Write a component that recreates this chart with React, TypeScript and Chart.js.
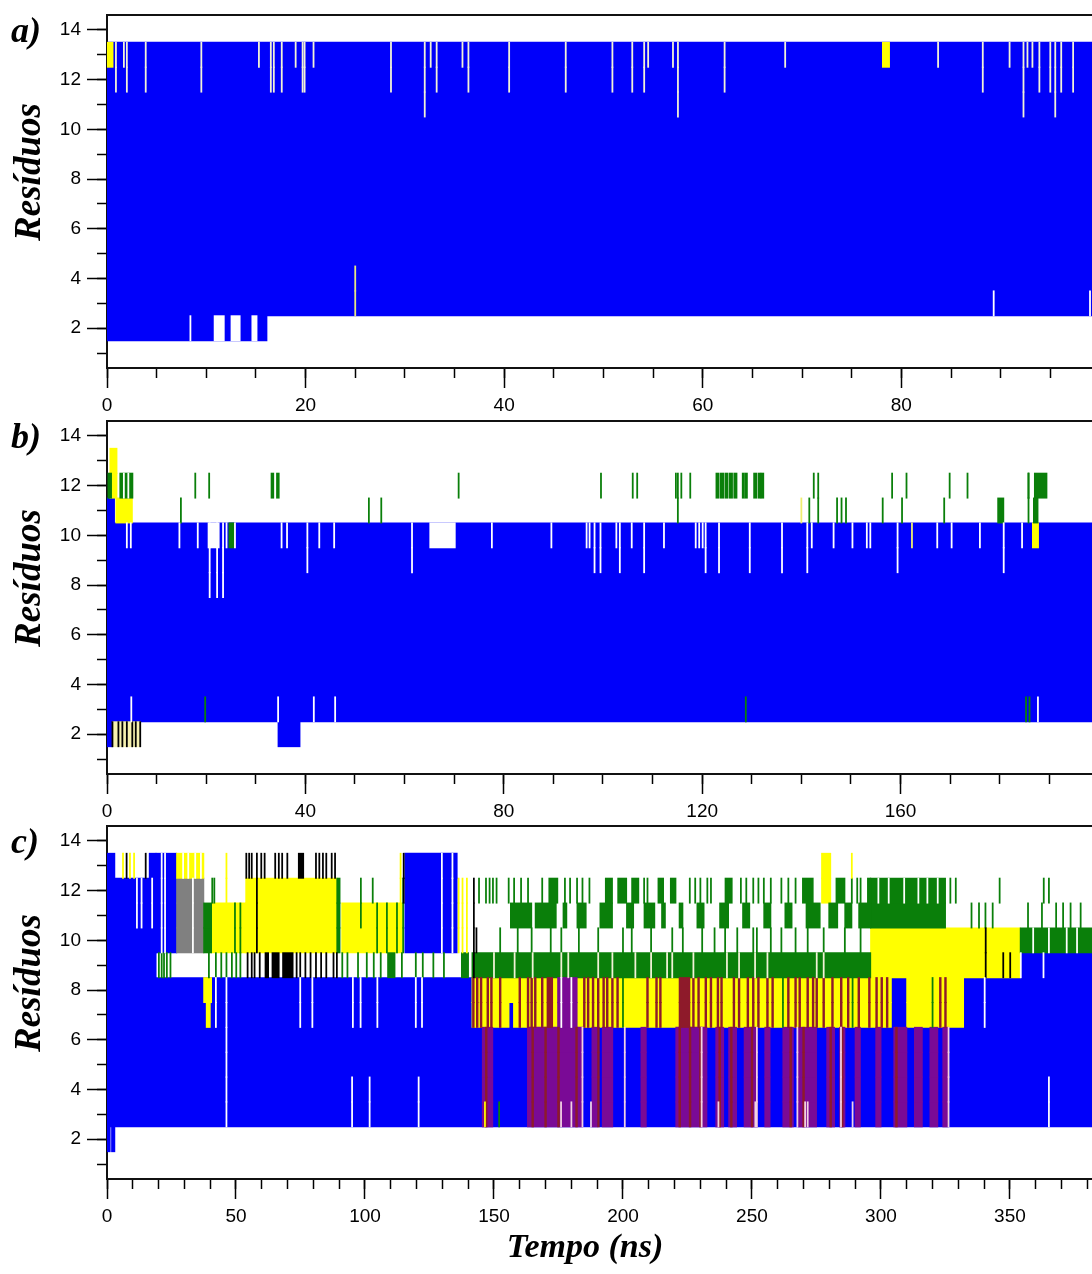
import React, { useEffect, useRef } from 'react';
import { Chart, registerables } from 'chart.js';

Chart.register(...registerables);

type Rect = [number, number, number, number]; // [t start, t end, residue low, residue high]
type LineGroup = { t: number[]; r: [number, number] }; // single-frame events at times t over residues r

// ---------------- common ----------------
const Y_MIN = 0.4;
const Y_MAX = 14.6;
const Y_MAJOR = 2;
const Y_MINOR = 1;
const Y_TITLE = 'Resíduos';
const X_TITLE = 'Tempo (ns)';

const BLUE = '#0000fa';
const YELLOW = '#ffff00';
const PALE_YELLOW = '#f6f1b0';
const GREEN = '#0a7f0a';
const BLACK = '#000000';
const GREY = '#808080';
const PURPLE = '#7a0a96';
const MAROON = '#8e1a2a';
const WHITE = '#ffffff';
const PALE = '#f2f2d6';
const PINK = '#f3d2e2';

// ---------------- panel a ----------------
const A_X_MAX = 99.2;
const A_X_TICKS = [0, 20, 40, 60, 80];
const A_BLUE: Rect[] = [[0, 100, 3, 13], [0, 16.1, 2, 2]];
const A_GAPS: Rect[] = [[10.8, 11.8, 2, 2], [12.5, 13.4, 2, 2], [14.6, 15.1, 2, 2]];
const A_YELLOW: Rect[] = [[0, 0.6, 13, 13], [78.1, 78.8, 13, 13]];
const A_TOP_LINES_12_13 = [0.9, 2.0, 3.9, 9.5, 16.5, 16.8, 17.6, 19.7, 19.9, 28.6, 33.2, 36.4, 40.5, 46.2, 50.9, 52.9, 54.1, 62.2, 88.2, 93.9, 95.0, 96.1, 97.3];
const A_TOP_LINES_13 = [1.7, 15.3, 19.0, 20.8, 32.6, 35.8, 54.5, 57.0, 68.3, 83.7, 90.9, 92.7, 93.2];
const A_TOP_LINES_11_13 = [32.0, 57.5, 92.3, 95.5];
const A_YELLOW_LINES = [25.0];
const A_LOW_LINES = [89.3, 99.0];
const A_R2_LINES = [8.4];

// ---------------- panel b ----------------
const B_X_MAX = 198.6;
const B_X_TICKS = [0, 40, 80, 120, 160];
const B_BLUE: Rect[] = [[0, 200, 3, 10], [0, 1.5, 11, 11], [34.5, 38.9, 2, 2], [0, 1.1, 2, 2]];
const B_GAPS: Rect[] = [[65.1, 70.2, 10, 10], [20.4, 22.6, 10, 10]];
const B_PALE_YELLOW: Rect[] = [[1.1, 6.7, 2, 2]];
const B_YELLOW: Rect[] = [[0.6, 2.0, 12, 13], [1.8, 5.1, 11, 11], [186.6, 187.8, 10, 10]];
const B_GREEN: Rect[] = [
  [0.2, 0.9, 12, 12], [2.6, 5.2, 12, 12], [187.0, 189.5, 12, 12], [179.6, 180.8, 11, 11],
  [186.8, 187.7, 11, 11], [24.6, 25.6, 10, 10], [122.8, 123.4, 12, 12], [123.7, 124.3, 12, 12],
  [124.6, 125.2, 12, 12], [125.5, 126.1, 12, 12], [126.4, 127.0, 12, 12], [128.1, 128.5, 12, 12],
  [128.7, 129.1, 12, 12], [130.4, 131.0, 12, 12], [131.3, 131.8, 12, 12], [131.9, 132.4, 12, 12],
  [33.1, 33.6, 12, 12], [34.2, 34.7, 12, 12],
];
const B_GREEN_R12 = [17.8, 20.6, 70.9, 99.6, 106.0, 106.9, 114.7, 115.8, 117.6, 142.5, 158.3, 161.2, 169.9, 173.5, 185.8];
const B_GREEN_R11 = [14.9, 52.8, 55.3, 141.6, 147.2, 148.1, 149.0, 156.4, 160.3, 168.8];
const B_GREEN_R11_12 = [115.1, 143.4, 185.8];
const B_GREEN_R3 = [19.8, 128.8, 185.3, 186.0];
const B_BLACK_R2 = [1.1, 2.3, 3.1, 4.0, 5.1, 5.8, 6.7];
const B_YELLOW_R11 = [140.0];
const B_YELLOW_R10 = [162.3];
const B_WHITE_R10 = [4.0, 4.8, 14.6, 18.3, 24.1, 25.8, 35.2, 36.3, 42.8, 45.8, 77.6, 89.6, 96.7, 97.3, 102.7, 105.8, 112.3, 118.7, 119.4, 120.1, 142.1, 146.5, 150.3, 153.2, 153.9, 167.4, 170.3, 176.0, 184.5];
const B_WHITE_R9_10 = [40.4, 61.5, 98.3, 99.5, 103.4, 108.3, 120.7, 123.4, 129.6, 136.1, 141.2, 159.4, 180.8];
const B_WHITE_R8_10 = [20.7, 22.2, 23.4];
const B_WHITE_R3 = [4.9, 34.5, 41.7, 46.0, 187.7];
const B_WHITE_R12 = [3.4, 4.3];

// ---------------- panel c ----------------
const C_X_MAX = 381.8;
const C_X_TICKS = [0, 50, 100, 150, 200, 250, 300, 350];
const C_BLUE: Rect[] = [
  [0, 1.2, 2, 2], [1.8, 3.0, 2, 2], [0, 383, 3, 6], [0, 141.5, 7, 8], [0, 19, 9, 12],
  [0, 3, 13, 13], [16.4, 19, 13, 13], [19, 27, 10, 13], [115.5, 135.7, 10, 13],
  [155.8, 157.6, 7, 7], [304, 310, 7, 8], [332, 383, 7, 8], [354, 383, 9, 9],
];
const C_GREY: Rect[] = [[27, 37.5, 10, 12]];
const C_YELLOW: Rect[] = [
  [27, 37.5, 13, 13], [37.5, 40.5, 8, 8], [38.5, 40.0, 7, 7], [40.5, 53.8, 10, 11],
  [53.8, 89.1, 10, 12], [91, 114.5, 10, 11], [141.5, 155.8, 7, 8], [155.8, 157.6, 8, 8],
  [157.6, 304, 7, 8], [310, 332, 7, 8], [296, 354, 9, 10], [277, 280.5, 12, 13],
];
const C_GREEN: Rect[] = [
  [37.5, 40.5, 10, 11], [89.1, 90.3, 10, 12], [141.5, 296, 9, 9], [296, 325, 11, 12], [354, 383, 10, 10],
  [108.8, 111.6, 9, 9], [137.4, 140.1, 9, 9],
  [156.4, 164.6, 11, 11], [166.0, 174.1, 11, 11], [176.8, 178.2, 11, 11], [182.2, 185.7, 11, 11],
  [191.1, 195.9, 11, 11], [201.4, 204.1, 11, 11], [208.2, 212.3, 11, 11], [215.0, 216.4, 11, 11],
  [221.8, 223.2, 11, 11], [228.7, 231.4, 11, 11], [237.5, 240.9, 11, 11], [246.4, 249.1, 11, 11],
  [254.6, 257.3, 11, 11], [262.8, 265.5, 11, 11], [271.0, 276.4, 11, 11], [279.8, 283.2, 11, 11],
  [286.0, 288.7, 11, 11], [291.4, 296, 11, 11],
  [171.3, 174.7, 12, 12], [193.2, 195.9, 12, 12], [198.0, 201.4, 12, 12], [203.4, 206.1, 12, 12],
  [213.6, 215.7, 12, 12], [218.4, 220.5, 12, 12], [239.6, 242.3, 12, 12], [269.6, 273.7, 12, 12],
  [282.6, 286.0, 12, 12], [294.8, 296, 12, 12],
];
const C_BLACK: Rect[] = [[74.2, 76.2, 13, 13], [61.3, 62.6, 9, 9], [64.0, 66.7, 9, 9], [68.1, 72.1, 9, 9]];
const C_PURPLE: Rect[] = [
  [145.5, 149.5, 3, 6], [163, 184.3, 3, 6], [188, 190, 3, 6], [192, 196, 3, 6], [207, 209, 3, 6],
  [220.5, 232.5, 3, 6], [236, 239, 3, 6], [241, 244, 3, 6], [247, 252, 3, 6], [255, 257, 3, 6],
  [262, 266, 3, 6], [268, 275, 3, 6], [279, 282, 3, 6], [284, 286, 3, 6], [290, 292, 3, 6],
  [298, 300, 3, 6], [305, 310, 3, 6], [313, 316, 3, 6], [319, 322, 3, 6], [324, 326, 3, 6],
  [174.7, 182.2, 7, 8],
];
const C_MAROON: Rect[] = [[170.6, 172.7, 7, 8], [221.8, 225.9, 7, 8]];
const C_MAROON_R3_6 = [147, 165, 170, 175, 182, 190.5, 222, 226, 230, 237.5, 242, 250, 265, 270, 280.5, 285, 306];
const C_MAROON_R7_8 = [142, 143.5, 145, 147.6, 149, 152.4, 160, 163.2, 164.6, 166, 168.7, 185.0, 186.5, 188.4, 190.4, 192.5, 193.9, 195.9, 197.9, 209.5, 213.0, 214.5, 227.3, 229.3, 232.1, 234.1, 236.8, 238.2, 243.0, 245.0, 248.4, 250.5, 252.5, 256.0, 258.0, 264.1, 266.9, 268.5, 271.6, 273.7, 275.1, 277.8, 281.2, 284.6, 287.3, 291.4, 295.5, 298.3, 300.3, 302.4, 323, 325];
const C_GREEN_R12 = [144.2, 146.9, 148.3, 149.6, 151.0, 155.7, 157.8, 160.5, 163.2, 168.7, 177.5, 179.5, 182.2, 184.3, 187.0, 208.2, 209.5, 225.9, 228.0, 230.0, 232.7, 234.1, 245.7, 247.8, 250.5, 252.5, 254.6, 257.3, 261.4, 264.1, 266.9, 288.7, 290.8, 292.1, 326.9, 329, 346, 363.1, 365.1, 41.6, 40.8, 103];
const C_GREEN_R10 = [152.4, 159.2, 164.6, 172.0, 176.1, 182.9, 190.4, 200.0, 203.4, 210.9, 219.1, 223.2, 230.7, 235.5, 239.6, 244.3, 250.5, 251.9, 257.3, 261.4, 266.9, 271.6, 277.8, 286.0, 292.1];
const C_GREEN_R11 = [335.1, 338, 340.5, 343.3, 357, 362.4, 367.9, 370.6, 373.5, 377.4];
const C_GREEN_R10_11 = [49.6, 51.7, 104.7, 108.5, 112.4];
const C_GREEN_R11_12 = [98.4];
const C_GREEN_R10_12 = [114.8];
const C_GREEN_R9 = [20.1, 21.2, 22.1, 23.2, 24.6, 39.5, 42.2, 44.3, 46.3, 48.4, 50.1, 51.7, 91.2, 93.2, 97.3, 100.7, 103.4, 106.1, 114.3, 119.7, 122.4, 126.5, 130.6];
const C_GREEN_R7_8 = [200, 262, 289, 320];
const C_GREEN_R3 = [152];
const C_BLACK_R13 = [54.0, 55.1, 56.1, 58.1, 59.8, 61.1, 65.2, 66.6, 67.9, 69.9, 81.0, 82.3, 83.7, 85.0, 87.1, 88.4, 7.6, 15.0];
const C_BLACK_R9 = [54.5, 56.1, 57.2, 59.2, 73.5, 74.9, 76.9, 78.9, 81.0, 83.0, 85.0, 87.8, 89.1, 347.4, 350.1];
const C_BLACK_R10_12 = [58.1];
const C_BLACK_R9_12 = [142.2];
const C_BLACK_R10 = [143.2];
const C_BLACK_R9_10 = [340.6];
const C_BLACK_R12_13 = [115.0];
const C_YELLOW_R13 = [6.2, 8.9, 10.5, 288.7];
const C_YELLOW_R12_13 = [46.3, 113.8];
const C_YELLOW_R10_12 = [136.3, 137.8, 139.5];
const C_YELLOW_R3 = [146.5];
const C_PALE_R9 = [150, 158, 165, 176.1, 178.8, 190.4, 195.9, 204.8, 210.9, 217.1, 219.1, 227.3, 240.3, 245.0, 251.2, 256.0, 275.1, 277.8];
const C_WHITE_R11_12 = [11.6, 13.4, 17.5];
const C_WHITE_R10_13 = [21.2, 22.5, 129.8, 133.9];
const C_WHITE_R10_12 = [33.3];
const C_WHITE_R7_8 = [42.2, 74.9, 79.6, 95.3, 98.3, 104.8, 119.7, 122.1, 340.2, 176.1, 180.0];
const C_WHITE_R3_8 = [46.3];
const C_WHITE_R3_4 = [95.0, 101.8, 120.8, 365.1];
const C_WHITE_R13 = [29.5, 31.5, 34.2, 36.4];
const C_WHITE_R12 = [299, 303, 309, 314.5, 318, 322];
const C_WHITE_R9 = [354.2, 363];
const C_WHITE_R10 = [359, 365.1, 372, 376];
const C_PINK_R3_6 = [184.3, 200.7, 230.5, 251.9, 267.6, 284.5, 326.2];
const C_PINK_R3 = [176, 180, 187.6, 237, 251.3, 270.6, 271.6, 289];

// ---------------- specs ----------------
interface Layer { name: string; color: string; rects?: Rect[]; lines?: LineGroup[]; lineW?: number }
interface PanelSpec {
  key: string; letter: string; top: number; height: number; xMax: number; xTicks: number[];
  minor: number; lineW: number; xBoxH: number; xTitle?: string; layers: Layer[];
}

const PLOT_TOP_PAD = 15;
const PLOT_H = 353;
const Y_AXIS_W = 107;
const Y_TITLE_SHIFT = -20;

const PANELS: PanelSpec[] = [
  {
    key: 'a', letter: 'a)', top: 0, height: 430, xMax: A_X_MAX, xTicks: A_X_TICKS, minor: 5, lineW: 0.08, xBoxH: 430 - PLOT_TOP_PAD - PLOT_H,
    layers: [
      { name: 'A-Helix', color: BLUE, rects: A_BLUE },
      { name: 'Coil', color: WHITE, rects: A_GAPS },
      { name: 'Turn', color: YELLOW, rects: A_YELLOW },
      { name: 'Turn (single)', color: PALE, lines: [
        { t: A_TOP_LINES_12_13, r: [12, 13] }, { t: A_TOP_LINES_13, r: [13, 13] }, { t: A_TOP_LINES_11_13, r: [11, 13] },
      ] },
      { name: 'Turn line', color: '#e8e880', lines: [{ t: A_YELLOW_LINES, r: [3, 4] }] },
      { name: 'Coil line', color: WHITE, lines: [{ t: A_R2_LINES, r: [2, 2] }, { t: A_LOW_LINES, r: [3, 3] }] },
    ],
  },
  {
    key: 'b', letter: 'b)', top: 406, height: 430, xMax: B_X_MAX, xTicks: B_X_TICKS, minor: 10, lineW: 0.16, xBoxH: 430 - PLOT_TOP_PAD - PLOT_H,
    layers: [
      { name: 'A-Helix', color: BLUE, rects: B_BLUE },
      { name: 'Coil', color: WHITE, rects: B_GAPS },
      { name: 'Turn pale', color: PALE_YELLOW, rects: B_PALE_YELLOW },
      { name: 'Turn', color: YELLOW, rects: B_YELLOW },
      { name: 'Bend', color: GREEN, rects: B_GREEN },
      { name: 'Bend line', color: GREEN, lines: [
        { t: B_GREEN_R12, r: [12, 12] }, { t: B_GREEN_R11, r: [11, 11] }, { t: B_GREEN_R11_12, r: [11, 12] }, { t: B_GREEN_R3, r: [3, 3] },
      ] },
      { name: 'Bridge line', color: BLACK, lines: [{ t: B_BLACK_R2, r: [2, 2] }] },
      { name: 'Turn line', color: '#eeee70', lines: [{ t: B_YELLOW_R11, r: [11, 11] }, { t: B_YELLOW_R10, r: [10, 10] }] },
      { name: 'Coil line', color: WHITE, lines: [
        { t: B_WHITE_R10, r: [10, 10] }, { t: B_WHITE_R9_10, r: [9, 10] }, { t: B_WHITE_R8_10, r: [8, 10] },
        { t: B_WHITE_R3, r: [3, 3] }, { t: B_WHITE_R12, r: [12, 12] },
      ] },
    ],
  },
  {
    key: 'c', letter: 'c)', top: 811, height: 463, xMax: C_X_MAX, xTicks: C_X_TICKS, minor: 10, lineW: 0.3, xBoxH: 463 - PLOT_TOP_PAD - PLOT_H, xTitle: X_TITLE,
    layers: [
      { name: 'A-Helix', color: BLUE, rects: C_BLUE },
      { name: '3-Helix', color: GREY, rects: C_GREY },
      { name: 'Turn', color: YELLOW, rects: C_YELLOW },
      { name: 'Bend', color: GREEN, rects: C_GREEN },
      { name: 'B-Bridge', color: BLACK, rects: C_BLACK },
      { name: '5-Helix', color: PURPLE, rects: C_PURPLE },
      { name: '5-Helix dark', color: MAROON, rects: C_MAROON, lineW: 0.55, lines: [{ t: C_MAROON_R3_6, r: [3, 6] }, { t: C_MAROON_R7_8, r: [7, 8] }] },
      { name: 'Bend line', color: GREEN, lines: [
        { t: C_GREEN_R12, r: [12, 12] }, { t: C_GREEN_R10, r: [10, 10] }, { t: C_GREEN_R11, r: [11, 11] },
        { t: C_GREEN_R10_11, r: [10, 11] }, { t: C_GREEN_R11_12, r: [11, 12] }, { t: C_GREEN_R10_12, r: [10, 12] },
        { t: C_GREEN_R9, r: [9, 9] }, { t: C_GREEN_R7_8, r: [7, 8] }, { t: C_GREEN_R3, r: [3, 3] },
      ] },
      { name: 'Bridge line', color: BLACK, lines: [
        { t: C_BLACK_R13, r: [13, 13] }, { t: C_BLACK_R9, r: [9, 9] }, { t: C_BLACK_R10_12, r: [10, 12] },
        { t: C_BLACK_R9_12, r: [9, 12] }, { t: C_BLACK_R10, r: [10, 10] }, { t: C_BLACK_R9_10, r: [9, 10] },
        { t: C_BLACK_R12_13, r: [12, 13] },
      ] },
      { name: 'Turn line', color: YELLOW, lines: [
        { t: C_YELLOW_R13, r: [13, 13] }, { t: C_YELLOW_R12_13, r: [12, 13] }, { t: C_YELLOW_R10_12, r: [10, 12] }, { t: C_YELLOW_R3, r: [3, 3] },
      ] },
      { name: 'Pale line', color: PALE, lines: [{ t: C_PALE_R9, r: [9, 9] }] },
      { name: 'Coil line', color: WHITE, lines: [
        { t: C_WHITE_R11_12, r: [11, 12] }, { t: C_WHITE_R10_13, r: [10, 13] }, { t: C_WHITE_R10_12, r: [10, 12] },
        { t: C_WHITE_R7_8, r: [7, 8] }, { t: C_WHITE_R3_8, r: [3, 8] }, { t: C_WHITE_R3_4, r: [3, 4] },
        { t: C_WHITE_R13, r: [13, 13] }, { t: C_WHITE_R12, r: [12, 12] }, { t: C_WHITE_R9, r: [9, 9] }, { t: C_WHITE_R10, r: [10, 10] },
      ] },
      { name: 'Pink line', color: PINK, lines: [{ t: C_PINK_R3_6, r: [3, 6] }, { t: C_PINK_R3, r: [3, 3] }] },
    ],
  },
];

const TICK_FONT = { family: '"Liberation Sans", Arial, sans-serif', size: 19 };
const SERIF = '"Liberation Serif", "Times New Roman", serif';

function toBars(layer: Layer, lineW: number) {
  const w = layer.lineW ?? lineW;
  const out: { x: [number, number]; y: number }[] = [];
  const push = (t0: number, t1: number, r0: number, r1: number) => {
    for (let r = r0; r <= r1; r++) out.push({ x: [t0, t1], y: r });
  };
  (layer.rects || []).forEach(([t0, t1, r0, r1]) => push(t0, t1, r0, r1));
  (layer.lines || []).forEach((g) => g.t.forEach((t) => push(t - w / 2, t + w / 2, g.r[0], g.r[1])));
  return out;
}

function zeroPad(s: any) {
  s.paddingLeft = 0; s.paddingRight = 0; s.paddingTop = 0; s.paddingBottom = 0;
}

function buildConfig(p: PanelSpec): any {
  const n = p.layers.length;
  const tickGrid = (len: number) => ({
    display: true, drawOnChartArea: false, drawTicks: true, tickLength: len, tickWidth: 1.5, tickColor: '#000', offset: false,
  });
  return {
    type: 'bar',
    data: {
      datasets: p.layers.map((L, i) => ({
        label: L.name,
        data: toBars(L, p.lineW),
        backgroundColor: L.color,
        borderWidth: 0,
        inflateAmount: 0.5,
        grouped: false,
        barPercentage: 1,
        categoryPercentage: 1,
        order: n - i,
        xAxisID: 'x',
        yAxisID: 'y',
      })),
    },
    options: {
      indexAxis: 'y',
      responsive: false,
      animation: false,
      events: [],
      layout: { padding: { top: PLOT_TOP_PAD, left: 0, right: 0, bottom: 0 } },
      plugins: { legend: { display: false }, tooltip: { enabled: false }, title: { display: false } },
      scales: {
        x: {
          type: 'linear', position: 'bottom', min: 0, max: p.xMax, weight: 1, offset: false,
          ticks: { font: TICK_FONT, color: '#000', padding: 6, maxRotation: 0, autoSkip: false },
          afterBuildTicks: (s: any) => { s.ticks = p.xTicks.map((v) => ({ value: v })); },
          grid: tickGrid(20),
          border: { display: true, color: '#111', width: 2 },
          afterFit: (s: any) => { s.height = p.xBoxH; zeroPad(s); },
        },
        xMinor: {
          type: 'linear', position: 'bottom', min: 0, max: p.xMax, weight: 0, offset: false,
          ticks: { display: false, stepSize: p.minor, includeBounds: false, maxTicksLimit: 1000 },
          grid: tickGrid(10),
          border: { display: false },
          afterFit: (s: any) => { s.height = 0; zeroPad(s); },
        },
        xTop: {
          type: 'linear', position: 'top', min: 0, max: p.xMax, offset: false,
          ticks: { display: false },
          grid: { display: true, drawOnChartArea: false, drawTicks: false },
          border: { display: true, color: '#111', width: 2 },
          afterFit: (s: any) => { s.height = 0; zeroPad(s); },
        },
        y: {
          type: 'linear', position: 'left', min: Y_MIN, max: Y_MAX, weight: 1, offset: false,
          ticks: { stepSize: Y_MAJOR, includeBounds: false, font: TICK_FONT, color: '#000', padding: 6, maxTicksLimit: 1000 },
          grid: tickGrid(20),
          border: { display: true, color: '#111', width: 2 },
          afterFit: (s: any) => { s.width = Y_AXIS_W; zeroPad(s); },
        },
        yMinor: {
          type: 'linear', position: 'left', min: Y_MIN, max: Y_MAX, weight: 0, offset: false,
          ticks: { display: false, stepSize: Y_MINOR, includeBounds: false, maxTicksLimit: 1000 },
          grid: tickGrid(10),
          border: { display: false },
          afterFit: (s: any) => { s.width = 0; zeroPad(s); },
        },
      },
    },
  };
}

function Panel({ spec }: { spec: PanelSpec }) {
  const ref = useRef<HTMLCanvasElement>(null);
  useEffect(() => {
    if (!ref.current) return;
    const chart = new Chart(ref.current, buildConfig(spec));
    return () => chart.destroy();
  }, [spec]);
  return (
    <canvas
      ref={ref}
      width={1092}
      height={spec.height}
      style={{ position: 'absolute', left: 0, top: spec.top, display: 'block', width: 1092, height: spec.height }}
    />
  );
}

const titleStyle: React.CSSProperties = {
  position: 'absolute', fontFamily: SERIF, fontStyle: 'italic', fontWeight: 'bold', color: '#000', whiteSpace: 'nowrap',
};

export default function App() {
  return (
    <div style={{ position: 'absolute', left: 0, top: 0, width: 1092, height: 1274, overflow: 'hidden', background: '#fff' }}>
      {PANELS.map((p) => (
        <Panel key={p.key} spec={p} />
      ))}
      {PANELS.map((p) => (
        <div key={p.key + '-label'} style={{ ...titleStyle, left: 11, top: p.top + PLOT_TOP_PAD + 15 - 20, lineHeight: '40px', fontSize: 36 }}>
          {p.letter}
        </div>
      ))}
      {PANELS.map((p) => (
        <div
          key={p.key + '-ytitle'}
          style={{
            ...titleStyle, left: 28, top: p.top + PLOT_TOP_PAD + PLOT_H / 2 + Y_TITLE_SHIFT, fontSize: 37, lineHeight: '40px',
            transform: 'translate(-50%, -50%) rotate(-90deg)',
          }}
        >
          {Y_TITLE}
        </div>
      ))}
      <div style={{ ...titleStyle, left: 585, top: 1228, fontSize: 34, lineHeight: '36px', transform: 'translateX(-50%)' }}>
        {X_TITLE}
      </div>
    </div>
  );
}
